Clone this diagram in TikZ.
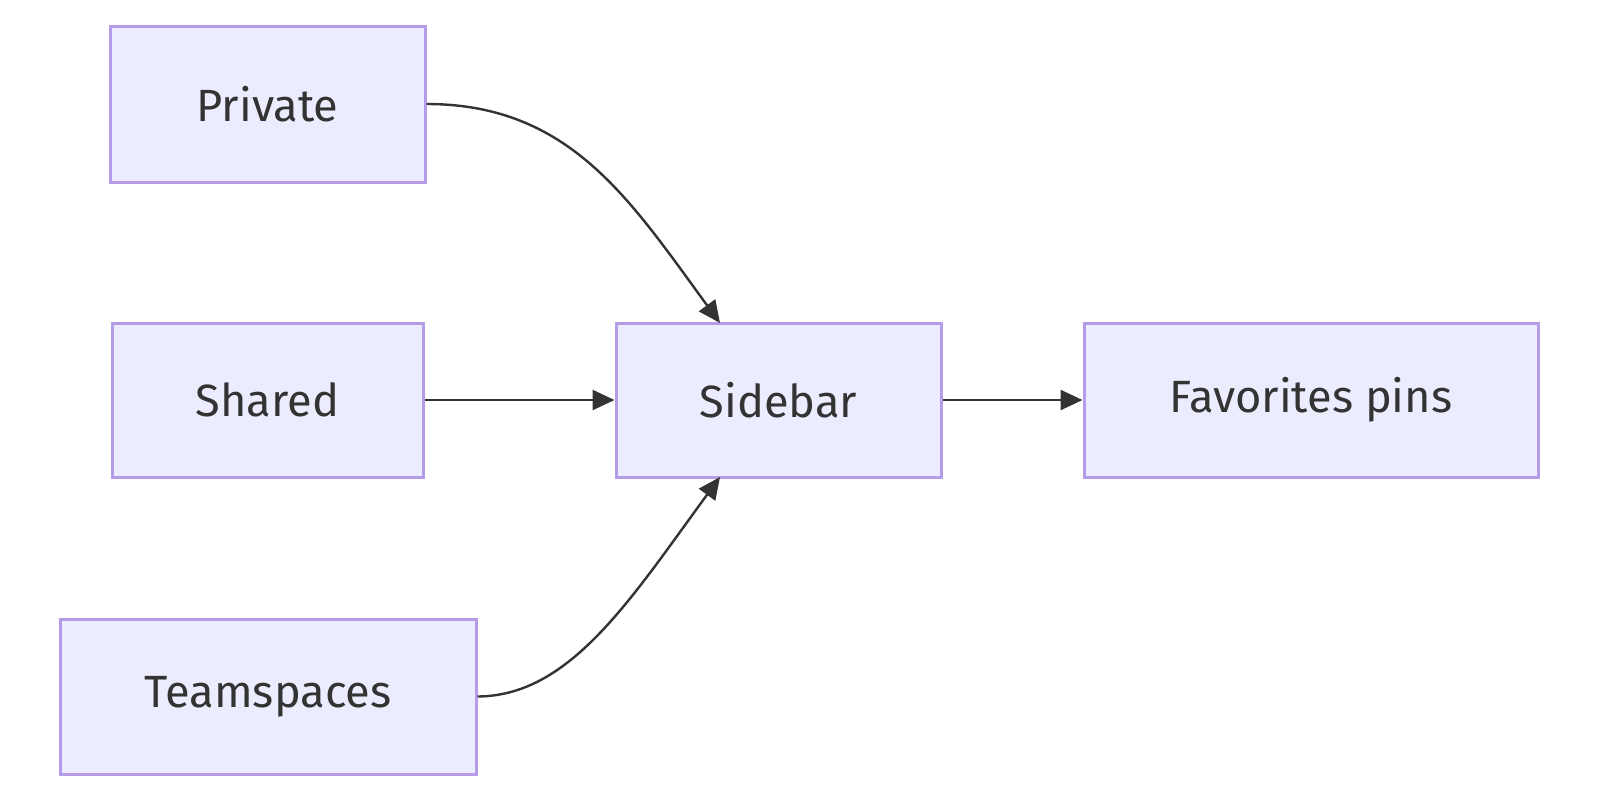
\documentclass[tikz,border=0pt]{standalone}
\usepackage{fontspec}
\setmainfont{Fira Sans}
\usetikzlibrary{arrows.meta}
\definecolor{boxfill}{HTML}{ECECFF}
\definecolor{boxline}{HTML}{B69CE8}
\definecolor{ink}{HTML}{333333}
\tikzset{
  box/.style={draw=boxline, fill=boxfill, line width=1.5pt, text=ink, font=\fontsize{22.6}{26}\selectfont, inner sep=0pt},
  link/.style={draw=ink, line width=1.2pt, -{Triangle[length=11pt,width=10pt]}}
}
\begin{document}
\begin{tikzpicture}[x=0.5pt, y=-0.5pt]
  \useasboundingbox (0,0) rectangle (1600,800);

  \node[box, minimum width=157.5pt, minimum height=78pt] (private) at (267.5,104) {Private};
  \node[box, minimum width=155.5pt, minimum height=77pt] (shared) at (267.5,400) {Shared};
  \node[box, minimum width=208pt, minimum height=77.5pt] (teams) at (268,696.5) {Teamspaces};
  \node[box, minimum width=162.5pt, minimum height=77pt] (sidebar) at (778.5,400) {Sidebar};
  \node[box, minimum width=227pt, minimum height=77pt] (favs) at (1311,400) {Favorites pins};

  % ends of the curved links on the sidebar box
  \coordinate (sbtop) at (720,323);
  \coordinate (sbbot) at (720,477);

  \draw[link] (private.east) .. controls (570,104) and (630,200) .. (sbtop);
  \draw[link] (teams.east) .. controls (570,696) and (630,600) .. (sbbot);
  \draw[link] (shared.east) -- (sidebar.west);
  \draw[link] (sidebar.east) -- (favs.west);
\end{tikzpicture}
\end{document}
